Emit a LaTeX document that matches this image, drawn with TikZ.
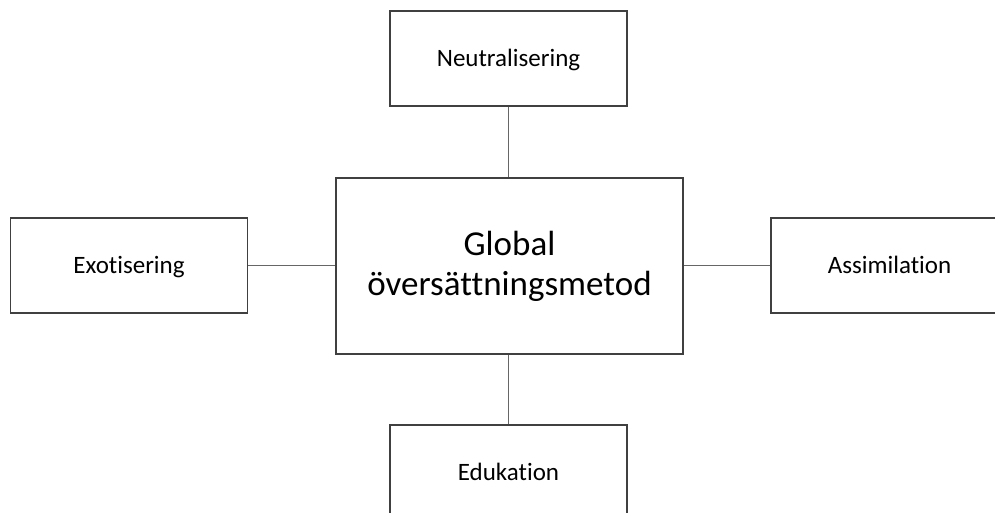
\documentclass[tikz,border=0pt]{standalone}
\usepackage{fontspec}
\setmainfont{Carlito}[Ligatures=NoCommon]
\begin{document}
\begin{tikzpicture}[x=1pt,y=-1pt,
  box/.style={draw=black!75,line width=1.2pt,minimum width=237pt,minimum height=95pt,inner sep=0pt,text height=19pt,text depth=3pt,font=\fontsize{25}{30}\selectfont},
  mainbox/.style={draw=black!75,line width=1.2pt,minimum width=347pt,minimum height=176pt,inner sep=0pt,align=center,font=\fontsize{35}{40}\selectfont},
  link/.style={draw=black!60,line width=1pt}]
\useasboundingbox (0,0) rectangle (995,513);
\clip (0,0) rectangle (995,513);

\node[mainbox] (global) at (509.5,266) {Global\\översättningsmetod};

\node[box] (neutral) at (508.5,58.5) {Neutralisering};
\node[box] (exot) at (129,265.5) {Exotisering};
\node[box] (assim) at (889.5,265.5) {Assimilation};
\node[box] (edu) at (508.5,472.5) {Edukation};

\draw[link] (neutral.south) -- (neutral.south |- global.north);
\draw[link] (edu.north) -- (edu.north |- global.south);
\draw[link] (exot.east) -- (exot.east -| global.west);
\draw[link] (assim.west) -- (assim.west -| global.east);
\end{tikzpicture}
\end{document}
